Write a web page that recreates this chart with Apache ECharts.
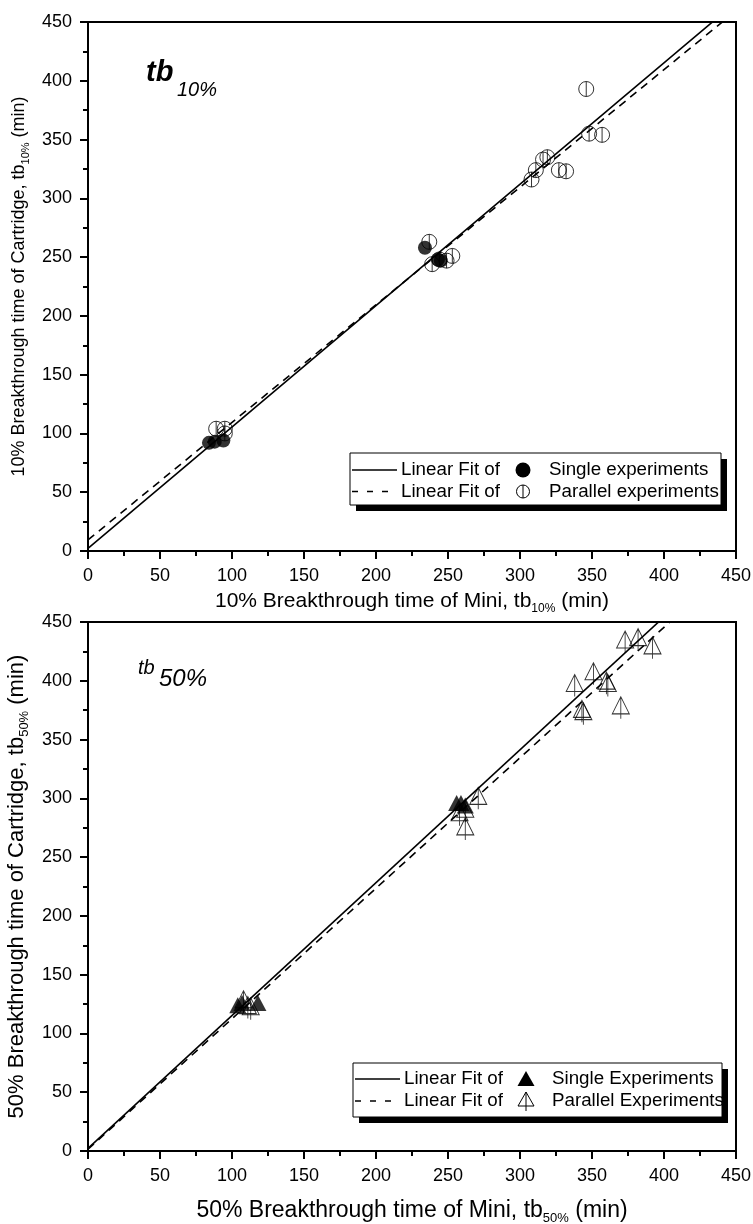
<!DOCTYPE html>
<html>
<head>
<meta charset="utf-8">
<script src="https://cdn.jsdelivr.net/npm/echarts@6/dist/echarts.min.js"></script>
<style>
html,body{margin:0;padding:0;background:#fff;}
#chart{width:753px;height:1224px;}
</style>
</head>
<body>
<div id="chart"></div>
<script>
// ---- Data ----
var ticks = [0, 50, 100, 150, 200, 250, 300, 350, 400, 450];

// 10% breakthrough (top panel): [Mini, Cartridge]
var single10 = [[84, 92], [88, 93], [94, 94], [234, 258], [243, 248], [245, 247]];
var parallel10 = [[89, 104], [95, 104], [95, 100], [237, 263], [239, 244], [244, 248], [249, 247], [253, 251],
  [308, 316], [311, 324], [316, 333], [319, 335], [327, 324], [332, 323], [346, 393], [348, 355], [357, 354]];
var fitSingle10 = [[0, 2.3], [450, 466.9]];
var fitParallel10 = [[0, 9.4], [450, 459.5]];

// 50% breakthrough (bottom panel)
var single50 = [[104, 124], [107, 126], [118, 126], [256, 296], [259, 296], [262, 294]];
var parallel50 = [[108, 127], [111, 122], [113, 121], [258, 286], [262, 289], [262, 274], [271, 300],
  [338, 396], [343, 374], [344, 372], [351, 406], [360, 398], [361, 396], [370, 377], [373, 433], [382, 435], [392, 428]];
var fitSingle50 = [[0, 2.3], [450, 510.8]];
var fitParallel50 = [[0, 1.5], [450, 501]];

var legendTop = ['Linear Fit of', 'Single experiments', 'Parallel experiments'];
var legendBottom = ['Linear Fit of', 'Single Experiments', 'Parallel Experiments'];

// ---- Styling ----
var FONT = 'Liberation Sans, Arial, sans-serif';
var CIRCLE_BAR = 'path://M10,0 A10,10 0 1,1 10,20 A10,10 0 1,1 10,0 Z M10,0 L10,20';
var TRI_STEM = 'path://M10,0 L20,17 L0,17 Z M10,0 L10,22';

function xAxisCfg(grid, name, nameSize, subSize, gap) {
  return {
    type: 'value', gridIndex: grid, min: ticks[0], max: ticks[ticks.length - 1], interval: 50,
    name: name, nameLocation: 'middle', nameGap: gap,
    nameTextStyle: {
      color: '#000', fontFamily: FONT, fontSize: nameSize, lineHeight: nameSize + 6,
      rich: { s: { color: '#000', fontFamily: FONT, fontSize: subSize, lineHeight: subSize, verticalAlign: 'bottom' } }
    },
    axisLine: { show: true, onZero: false, lineStyle: { color: '#000', width: 2 } },
    axisTick: { show: true, inside: false, length: 8, lineStyle: { color: '#000', width: 2 } },
    minorTick: { show: true, splitNumber: 2, length: 5, lineStyle: { color: '#000', width: 2 } },
    axisLabel: { color: '#000', fontFamily: FONT, fontSize: 18, margin: 16 },
    splitLine: { show: false }
  };
}
function yAxisCfg(grid, name, nameSize, subSize, gap) {
  var c = xAxisCfg(grid, name, nameSize, subSize, gap);
  c.nameRotate = 90;
  c.axisLabel.margin = 16;
  return c;
}

var option = {
  animation: false,
  backgroundColor: '#fff',
  textStyle: { fontFamily: FONT },
  grid: [
    { left: 88, top: 22, width: 648, height: 529, show: true, borderColor: '#000', borderWidth: 2, backgroundColor: 'transparent', outerBoundsMode: 'none' },
    { left: 88, top: 622, width: 648, height: 529, show: true, borderColor: '#000', borderWidth: 2, backgroundColor: 'transparent', outerBoundsMode: 'none' }
  ],
  xAxis: [
    xAxisCfg(0, '10% Breakthrough time of Mini, tb{s|10%} (min)', 21, 12, 37),
    xAxisCfg(1, '50% Breakthrough time of Mini, tb{s|50%} (min)', 23, 13, 45)
  ],
  yAxis: [
    yAxisCfg(0, '10% Breakthrough time of Cartridge, tb{s|10%} (min)', 18, 11, 54),
    yAxisCfg(1, '50% Breakthrough time of Cartridge, tb{s|50%} (min)', 22, 13, 54)
  ],
  series: [
    { type: 'line', xAxisIndex: 0, yAxisIndex: 0, data: fitSingle10, showSymbol: false, symbol: 'none', clip: true,
      lineStyle: { color: '#000', width: 1.6 }, z: 3 },
    { type: 'line', xAxisIndex: 0, yAxisIndex: 0, data: fitParallel10, showSymbol: false, symbol: 'none', clip: true,
      lineStyle: { color: '#000', width: 1.6, type: [8, 6] }, z: 3 },
    { type: 'scatter', xAxisIndex: 0, yAxisIndex: 0, data: parallel10, symbol: CIRCLE_BAR, symbolSize: 15,
      itemStyle: { color: 'rgba(0,0,0,0)', borderColor: '#000', borderWidth: 1 }, z: 4 },
    { type: 'scatter', xAxisIndex: 0, yAxisIndex: 0, data: single10, symbol: 'circle', symbolSize: 14,
      itemStyle: { color: '#000' }, z: 5 },

    { type: 'line', xAxisIndex: 1, yAxisIndex: 1, data: fitSingle50, showSymbol: false, symbol: 'none', clip: true,
      lineStyle: { color: '#000', width: 1.6 }, z: 3 },
    { type: 'line', xAxisIndex: 1, yAxisIndex: 1, data: fitParallel50, showSymbol: false, symbol: 'none', clip: true,
      lineStyle: { color: '#000', width: 1.6, type: [8, 6] }, z: 3 },
    { type: 'scatter', xAxisIndex: 1, yAxisIndex: 1, data: parallel50, symbol: TRI_STEM, symbolSize: [17, 22],
      itemStyle: { color: 'rgba(0,0,0,0)', borderColor: '#000', borderWidth: 1 }, z: 4 },
    { type: 'scatter', xAxisIndex: 1, yAxisIndex: 1, data: single50, symbol: 'triangle', symbolSize: [17, 16],
      itemStyle: { color: '#000' }, z: 5 }
  ],
  graphic: []
};

function legendGraphics(box, rows, labels, markers) {
  var g = [];
  g.push({ type: 'rect', shape: { x: box.x + 6, y: box.y + 6, width: box.w, height: box.h }, style: { fill: '#000' }, z: 100 });
  g.push({ type: 'rect', shape: { x: box.x, y: box.y, width: box.w, height: box.h }, style: { fill: '#fff', stroke: '#000', lineWidth: 1 }, z: 101 });
  for (var i = 0; i < 2; i++) {
    var y = rows[i];
    g.push({ type: 'line', shape: { x1: box.x + 2, y1: y, x2: box.x + 47, y2: y },
      style: { stroke: '#000', lineWidth: 1.5, lineDash: i === 0 ? null : [6, 9] }, z: 102 });
    g.push({ type: 'text', x: box.x + 51, y: y, style: { text: labels[0], fontFamily: FONT, fontSize: 18.75, fill: '#000', textVerticalAlign: 'middle' }, z: 102 });
    g = g.concat(markers[i](box.x + 173, y));
    g.push({ type: 'text', x: box.x + 199, y: y, style: { text: labels[i + 1], fontFamily: FONT, fontSize: 18.75, fill: '#000', textVerticalAlign: 'middle' }, z: 102 });
  }
  return g;
}

var topMarkers = [
  function (x, y) { return [{ type: 'circle', shape: { cx: x, cy: y, r: 7.5 }, style: { fill: '#000' }, z: 102 }]; },
  function (x, y) { return [
    { type: 'circle', shape: { cx: x, cy: y, r: 6.5 }, style: { fill: 'none', stroke: '#000', lineWidth: 1 }, z: 102 },
    { type: 'line', shape: { x1: x, y1: y - 6.5, x2: x, y2: y + 6.5 }, style: { stroke: '#000', lineWidth: 1 }, z: 102 }
  ]; }
];
var botMarkers = [
  function (x, y) { return [{ type: 'polygon', shape: { points: [[x, y - 8], [x + 8.5, y + 7], [x - 8.5, y + 7]] }, style: { fill: '#000' }, z: 102 }]; },
  function (x, y) { return [
    { type: 'polygon', shape: { points: [[x, y - 9], [x + 8, y + 5], [x - 8, y + 5]] }, style: { fill: 'none', stroke: '#000', lineWidth: 1 }, z: 102 },
    { type: 'line', shape: { x1: x, y1: y - 9, x2: x, y2: y + 10 }, style: { stroke: '#000', lineWidth: 1 }, z: 102 }
  ]; }
];

option.graphic = []
  .concat(legendGraphics({ x: 350, y: 453, w: 371, h: 52 }, [470, 491.5], legendTop, topMarkers))
  .concat(legendGraphics({ x: 353, y: 1063, w: 369, h: 54 }, [1079, 1101], legendBottom, botMarkers))
  .concat([
    { type: 'text', x: 146, y: 73, style: { text: 'tb', fontFamily: FONT, fontSize: 29, fontStyle: 'italic', fontWeight: 'bold', fill: '#000', textVerticalAlign: 'middle' }, z: 50 },
    { type: 'text', x: 177, y: 90, style: { text: '10%', fontFamily: FONT, fontSize: 20, fontStyle: 'italic', fill: '#000', textVerticalAlign: 'middle' }, z: 50 },
    { type: 'text', x: 138, y: 668, style: { text: 'tb', fontFamily: FONT, fontSize: 20, fontStyle: 'italic', fill: '#000', textVerticalAlign: 'middle' }, z: 50 },
    { type: 'text', x: 159, y: 679, style: { text: '50%', fontFamily: FONT, fontSize: 24, fontStyle: 'italic', fill: '#000', textVerticalAlign: 'middle' }, z: 50 }
  ]);

var chart = echarts.init(document.getElementById('chart'), null, { renderer: 'canvas' });
chart.setOption(option);
</script>
</body>
</html>
